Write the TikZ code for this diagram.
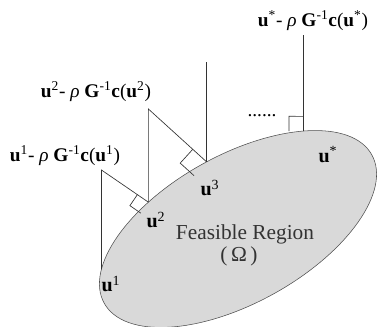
\documentclass[tikz,border=0pt]{standalone}
\usepackage{fontspec}
\setmainfont{Liberation Serif}
\usetikzlibrary{calc}

\begin{document}
\begin{tikzpicture}[x=0.75pt,y=0.75pt,
  edge/.style={draw=black!80,line width=0.5pt},
  lbl/.style={font=\fontsize{14.5}{17}\selectfont},
  ulbl/.style={font=\fontsize{15}{17}\selectfont},
  txt/.style={font=\fontsize{16}{19}\selectfont,text=black!80}]
\useasboundingbox (0,0) rectangle (378,327);
\begin{scope}[shift={(238,98)},rotate=29]
\fill[gray!30] (0,0) ellipse [x radius=153,y radius=74];
\draw[black!70,line width=0.4pt] (0,0) ellipse [x radius=153,y radius=74];
\coordinate (p1) at (155.3:153 and 74);
\coordinate (p2) at (115.3:153 and 74);
\coordinate (p3) at (88.1:153 and 74);
\coordinate (ps) at (46.7:153 and 74);
\end{scope}
\coordinate (q1) at (p1 |- 0,157);
\coordinate (q2) at (p2 |- 0,218);
\coordinate (q3) at (p3 |- 0,265);
\coordinate (qs) at (ps |- 0,292);
\draw[edge] (p1) -- (q1) -- (p2);
\draw[edge] (p2) -- (q2) -- (p3);
\draw[edge] (p3) -- (q3);
\draw[edge] (ps) -- (qs);
\draw[edge] ($(p2)!10pt!(q1)$) -- ($(p2)!14.1pt!45:(q1)$) -- ($(p2)!10pt!90:(q1)$);
\draw[edge] ($(p3)!14pt!(q2)$) -- ($(p3)!19.8pt!45:(q2)$) -- ($(p3)!14pt!90:(q2)$);
\draw[edge] ($(ps)!11pt!(qs)$) -- ($(ps)!15.6pt!45:(qs)$) -- ($(ps)!11pt!90:(qs)$);
\node[lbl] (lab1) at (65,171) {\textbf{u}\textsuperscript{1}- \textit{ρ} \textbf{G}\textsuperscript{-1}\textbf{c}(\textbf{u}\textsuperscript{1})};
\node[lbl] (lab2) at (96,235) {\textbf{u}\textsuperscript{2}- \textit{ρ} \textbf{G}\textsuperscript{-1}\textbf{c}(\textbf{u}\textsuperscript{2})};
\node[lbl] (labs) at (313,306) {\textbf{u}\textsuperscript{*}- \textit{ρ} \textbf{G}\textsuperscript{-1}\textbf{c}(\textbf{u}\textsuperscript{*})};
\node[lbl,anchor=base] (dots) at (262,210) {......};
\node[ulbl] (u1) at (111,43) {\textbf{u}\textsuperscript{1}};
\node[ulbl] (u2) at (156,107) {\textbf{u}\textsuperscript{2}};
\node[ulbl] (u3) at (210,139) {\textbf{u}\textsuperscript{3}};
\node[ulbl] (us) at (328,172) {\textbf{u}\textsuperscript{*}};
\node[txt,anchor=base] (fr) at (245,87) {Feasible Region};
\node[txt] (om) at (239,71) {(\,Ω\,)};
\end{tikzpicture}
\end{document}
